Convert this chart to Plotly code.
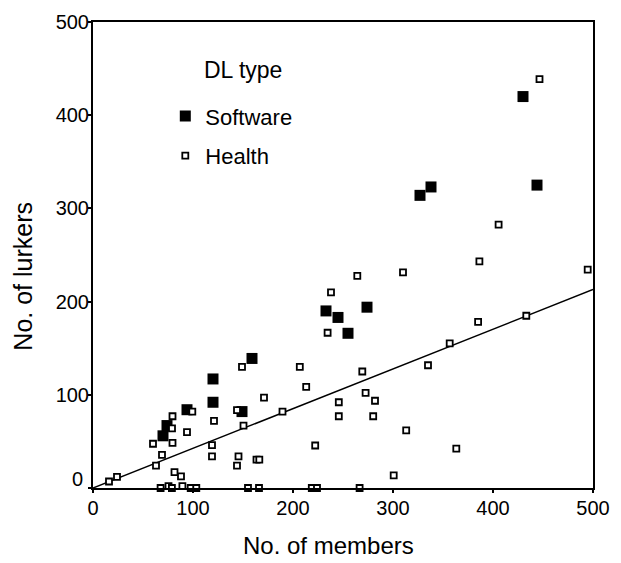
import plotly.graph_objects as go

# ---- data ----
software_members = [70, 74, 94, 120, 120, 149, 159, 233, 245, 255, 274, 327, 338, 430, 444]
software_lurkers = [56, 67, 84, 117, 92, 82, 139, 190, 183, 166, 194, 314, 323, 420, 325]

health_members = [16, 24, 60, 63, 69, 79.5, 79, 79.5, 81.5, 88, 89.4, 94, 99.3,
                  67.6, 75.5, 78.9, 97.7, 103.3, 119, 119, 121, 144, 145.5, 144,
                  149, 150.5, 163.5, 166.3, 155, 166, 171, 189.5, 206.8, 213.2, 222.2,
                  218.8, 224, 266.6, 238, 234.6, 264.3, 310, 269.3, 272.6, 282,
                  245.8, 245.8, 280.2, 313.2, 363.3, 300.7, 335, 356.7, 385.1,
                  386.4, 405.6, 433.3, 446.5, 494.7]
health_lurkers = [7, 12, 47.5, 24, 35.5, 77, 64, 48.5, 17, 12.5, 2, 60, 82,
                  0, 2, 0, 0, 0, 46, 34, 72, 83.5, 34, 24,
                  130, 67, 30.4, 30.4, 0, 0, 97, 82, 130, 108.5, 45.6,
                  0, 0, 0, 210, 166.6, 227.7, 231.3, 125, 102, 93.6,
                  92, 77, 77, 61.8, 42.3, 13.6, 131.7, 155.1, 178.2,
                  243.1, 282.6, 184.8, 438.8, 234.4]

fit_x = [0, 500]
fit_y = [0, 213]

x_ticks = [0, 100, 200, 300, 400, 500]
y_ticks = [0, 100, 200, 300, 400, 500]
y_ticktext = ["", "100", "200", "300", "400", "500"]

FONT = "Liberation Sans, Arial, sans-serif"

fig = go.Figure()

fig.add_trace(go.Scatter(x=fit_x, y=fit_y, mode="lines",
                         line=dict(color="black", width=1.5),
                         showlegend=False, hoverinfo="skip", cliponaxis=False))

fig.add_trace(go.Scatter(x=software_members, y=software_lurkers, mode="markers",
                         name="Software", legendgroup="sw",
                         marker=dict(symbol="square", size=11, color="black",
                                     line=dict(width=0)),
                         cliponaxis=False))

fig.add_trace(go.Scatter(x=health_members, y=health_lurkers, mode="markers",
                         name="Health", legendgroup="he",
                         marker=dict(symbol="square", size=6, color="white",
                                     line=dict(color="black", width=1.8)),
                         cliponaxis=False))

axis_common = dict(showgrid=False, zeroline=False, showline=True,
                   linecolor="black", linewidth=2, mirror=True,
                   ticks="outside", ticklen=3, tickwidth=2, tickcolor="black",
                   tickfont=dict(family=FONT, size=20, color="black"),
                   range=[0, 500])

fig.update_xaxes(**axis_common, tickvals=x_ticks, ticklabelstandoff=-2)
fig.update_yaxes(**axis_common, tickvals=y_ticks, ticktext=y_ticktext,
                 ticklabelstandoff=-5)

fig.update_layout(
    width=621, height=563,
    margin=dict(l=93, r=23, t=11, b=75),
    paper_bgcolor="white", plot_bgcolor="white",
    font=dict(family=FONT, color="black"),
    showlegend=True,
    legend=dict(x=0.1446, y=0.843, xanchor="left", yanchor="top",
                font=dict(family=FONT, size=22, color="black"),
                bgcolor="rgba(0,0,0,0)", tracegroupgap=8),
    annotations=[
        dict(text="DL type", x=0.2178, y=0.897, xref="paper", yref="paper",
             xanchor="left", yanchor="middle", showarrow=False,
             font=dict(family=FONT, size=23, color="black")),
        dict(text="No. of lurkers", x=-0.1406, y=0.455, xref="paper", yref="paper",
             xanchor="center", yanchor="middle", textangle=-90, showarrow=False,
             font=dict(family=FONT, size=25, color="black")),
        dict(text="No. of members", x=0.471, y=-0.124, xref="paper", yref="paper",
             xanchor="center", yanchor="middle", showarrow=False,
             font=dict(family=FONT, size=24, color="black")),
        dict(text="0", x=0, y=0, xref="paper", yref="y",
             xanchor="right", yanchor="middle", xshift=-8, yshift=9, showarrow=False,
             font=dict(family=FONT, size=20, color="black")),
    ],
)

fig.write_html("out.html",
               config={"displayModeBar": False},
               post_script="document.body.style.margin='0';document.body.style.overflow='hidden';")
